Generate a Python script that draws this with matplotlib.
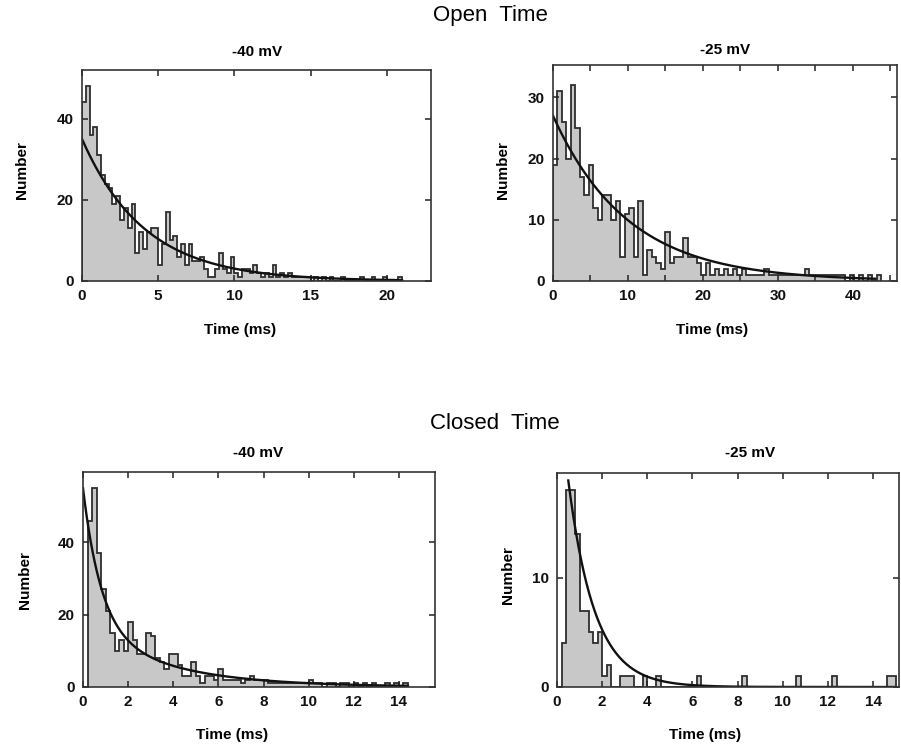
import numpy as np
import matplotlib.pyplot as plt
from matplotlib.ticker import MultipleLocator

plt.rcParams['font.family'] = ['Liberation Sans', 'DejaVu Sans']
plt.rcParams['font.weight'] = 'bold'

# histogram counts per bin
open_40_width = 0.25
open_40_counts = [44, 48, 36, 38, 31, 26, 24, 23, 19, 21,
                  15, 18, 13, 19, 7, 12, 8, 12, 13, 13,
                  4, 9, 17, 10, 11, 6, 9, 4, 9, 5,
                  5, 6, 3, 1, 1, 3, 7, 3, 2, 6,
                  2, 1, 3, 3, 2, 4, 2, 1, 2, 1,
                  4, 1, 2, 1, 2, 1, 1, 1, 1, 1,
                  0, 1, 0, 1, 0, 1, 0, 0, 1, 0,
                  0, 0, 0, 1, 0, 0, 1, 0, 0, 1,
                  0, 0, 0, 1]

open_25_width = 0.6
open_25_counts = [19, 31, 26, 20, 32, 25, 17, 14, 19, 12,
                  10, 14, 14, 10, 13, 4, 11, 12, 4, 13,
                  1, 5, 4, 3, 2, 8, 3, 4, 4, 7,
                  4, 4, 3, 1, 3, 1, 2, 1, 2, 1,
                  2, 1, 2, 1, 1, 1, 1, 2, 1, 1,
                  1, 1, 1, 1, 1, 1, 2, 1, 1, 1,
                  1, 1, 1, 1, 1, 0, 1, 0, 1, 0,
                  1, 0, 1]

closed_40_width = 0.2
closed_40_counts = [0, 46, 55, 37, 27, 21, 15, 10, 13, 10,
                    18, 13, 9, 9, 15, 14, 8, 7, 5, 9,
                    9, 6, 3, 3, 7, 3, 1, 3, 3, 2,
                    5, 2, 2, 2, 2, 1, 2, 3, 2, 2,
                    2, 1, 1, 1, 1, 1, 1, 1, 1, 1,
                    2, 1, 1, 0, 1, 1, 0, 1, 1, 0,
                    1, 0, 1, 0, 1, 0, 0, 1, 0, 1,
                    0, 1]

closed_25_width = 0.2
closed_25_counts = [0, 4, 18, 18, 14, 7, 7, 5, 4, 5,
                    1, 2, 0, 0, 1, 1, 1, 0, 0, 1,
                    0, 0, 1, 0, 0, 0, 0, 0, 0, 0,
                    0, 1, 0, 0, 0, 0, 0, 0, 0, 0,
                    0, 1, 0, 0, 0, 0, 0, 0, 0, 0,
                    0, 0, 0, 1, 0, 0, 0, 0, 0, 0,
                    0, 1, 0, 0, 0, 0, 0, 0, 0, 0,
                    0, 0, 0, 1, 1]

# fitted exponentials: (amplitude at t=0, tau in ms), and the drawn range
open_40_fit = [(35, 4.1)]
open_40_fit_range = (0, 21)
open_25_fit = [(27, 10.0)]
open_25_fit_range = (0, 43)
closed_40_fit = [(38, 0.8), (17, 3.6)]
closed_40_fit_range = (0, 14.4)
closed_25_fit = [(29, 1.17)]
closed_25_fit_range = (0.5, 15)

W, H = 901, 746
fig = plt.figure(figsize=(W / 100, H / 100), dpi=100)


def px(x, y):
    return x / W, 1 - y / H


def panel(box, width, counts, fit, fit_range, xmax, ymax, xmajor, xminor, ymajor,
          title, title_xy, xlabel_xy, ylabel_xy):
    left, top, right, bottom = box
    ax = fig.add_axes([left / W, 1 - bottom / H, (right - left) / W, (bottom - top) / H])
    edges = np.arange(len(counts) + 1) * width
    ax.stairs(counts, edges, fill=True, color='#c8c8c8', lw=0)
    ax.stairs(counts, edges, color='#2e2e2e', lw=1.3)
    t = np.linspace(fit_range[0], fit_range[1], 500)
    y = sum(a * np.exp(-t / tau) for a, tau in fit)
    ax.plot(t, y, color='#111111', lw=1.7)
    ax.set_xlim(0, xmax)
    ax.set_ylim(0, ymax)
    ax.xaxis.set_major_locator(MultipleLocator(xmajor))
    ax.xaxis.set_minor_locator(MultipleLocator(xminor))
    ax.yaxis.set_major_locator(MultipleLocator(ymajor))
    ax.tick_params(which='both', direction='in', top=True, right=True,
                   length=4, width=1.1, color='#222222')
    ax.tick_params(labelsize=11, pad=6, labelcolor='#111111')
    for s in ax.spines.values():
        s.set_linewidth(1.2)
        s.set_color('#333333')
    fig.text(*px(*title_xy), title, ha='center', va='center', fontsize=11)
    fig.text(*px(*xlabel_xy), 'Time (ms)', ha='center', va='center', fontsize=11)
    fig.text(*px(*ylabel_xy), 'Number', ha='center', va='center', fontsize=11,
             rotation=90)
    return ax


panel((82, 70, 431, 281), open_40_width, open_40_counts, open_40_fit,
      open_40_fit_range, 22.9, 52, 5, 5, 20,
      '-40 mV', (257, 52), (240, 330), (22, 170))
panel((553, 65, 897, 281), open_25_width, open_25_counts, open_25_fit,
      open_25_fit_range, 45.9, 35.3, 10, 5, 10,
      '-25 mV', (725, 50), (712, 330), (503, 170))
panel((83, 472, 435, 687), closed_40_width, closed_40_counts, closed_40_fit,
      closed_40_fit_range, 15.6, 59.5, 2, 2, 20,
      '-40 mV', (258, 453), (232, 735), (25, 580))
panel((557, 473, 899, 687), closed_25_width, closed_25_counts, closed_25_fit,
      closed_25_fit_range, 15.15, 19.6, 2, 2, 10,
      '-25 mV', (750, 453), (705, 735), (508, 575))

fig.text(*px(490, 15), 'Open  Time', ha='center', va='center', fontsize=16,
         fontweight='normal')
fig.text(*px(495, 423), 'Closed  Time', ha='center', va='center', fontsize=16,
         fontweight='normal')

fig.savefig('out.png', dpi=100)
